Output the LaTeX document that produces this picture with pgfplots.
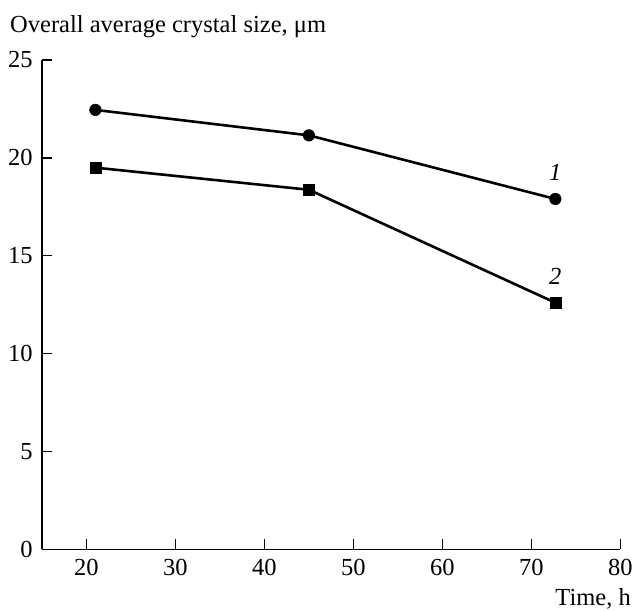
\documentclass[border=0pt]{standalone}
\usepackage{fontspec}
\setmainfont{Liberation Serif}
\usepackage{pgfplots}
\pgfplotsset{compat=1.18}
\begin{document}
\fontsize{24.5}{29}\selectfont
\begin{tikzpicture}
\useasboundingbox (-42pt,-60.7pt) rectangle (592pt,549.3pt);
\begin{axis}[
  at={(0pt,0pt)}, anchor=south west,
  scale only axis, width=578.3pt, height=489.3pt,
  xmin=15, xmax=80, ymin=0, ymax=25,
  axis lines=left,
  axis line style={-, line width=1.4pt},
  every tick/.style={black, line width=1.4pt},
  tick align=inside, major tick length=10pt,
  xtick={20,30,...,80}, ytick={0,5,...,25},
  /pgf/number format/assume math mode=true,
  tick label style={font=\fontsize{24.5}{29}\selectfont},
  xticklabel style={yshift=-2pt},
  yticklabel style={xshift=-1pt},
  clip=false,
]
\addplot[black, line width=2.6pt, mark=*, mark size=5.8pt, mark options={line width=0.5pt}] coordinates {(21,22.45)(45,21.15)(72.7,17.9)};
\addplot[black, line width=2.6pt, mark=square*, mark size=5.5pt, mark options={line width=0.5pt}] coordinates {(21,19.5)(45,18.37)(72.7,12.6)};
\node[font=\itshape] at (axis cs:72.7,19.28) {1};
\node[font=\itshape] at (axis cs:72.7,13.93) {2};
\end{axis}
\node[anchor=base west, inner sep=0pt] at (-32pt,516.3pt) {Overall average crystal size, μm};
\node[anchor=base east, inner sep=0pt] at (589pt,-55.7pt) {Time, h};
\end{tikzpicture}
\end{document}
